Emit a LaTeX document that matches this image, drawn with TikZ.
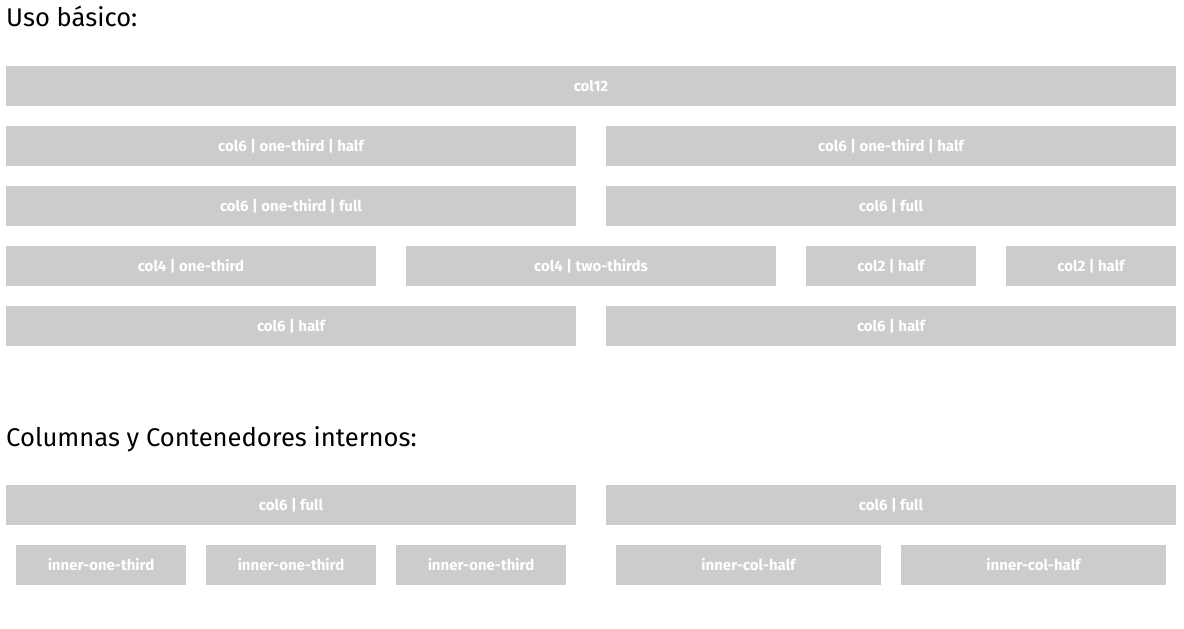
\documentclass[tikz,border=0pt]{standalone}
\usepackage{fontspec}
\setmainfont{Fira Sans}
\begin{document}
\begin{tikzpicture}[x=1pt,y=-1pt,
  box/.style={fill=boxgray,draw=none,inner sep=0pt,minimum height=40pt,
    text=white,font=\fontsize{15}{18}\selectfont\bfseries},
  title/.style={anchor=base west,inner sep=0pt,text=black,font=\fontsize{25.6}{30}\selectfont}]
\definecolor{boxgray}{HTML}{CCCCCC}
\useasboundingbox (0,0) rectangle (1184,629);
\fill[white] (0,0) rectangle (1184,629);
\newcommand{\bx}[5]{\node[box,minimum width={#3-#2}] (#1) at ({(#2+#3)/2},{#4+20}) {#5};}
\node[title] (t1) at (6,27) {Uso básico:};
\bx{r1}{6}{1176}{66}{col12}
\bx{r2a}{6}{576}{126}{col6 | one-third | half}
\bx{r2b}{606}{1176}{126}{col6 | one-third | half}
\bx{r3a}{6}{576}{186}{col6 | one-third | full}
\bx{r3b}{606}{1176}{186}{col6 | full}
\bx{r4a}{6}{376}{246}{col4 | one-third}
\bx{r4b}{406}{776}{246}{col4 | two-thirds}
\bx{r4c}{806}{976}{246}{col2 | half}
\bx{r4d}{1006}{1176}{246}{col2 | half}
\bx{r5a}{6}{576}{306}{col6 | half}
\bx{r5b}{606}{1176}{306}{col6 | half}
\node[title] (t2) at (6,446) {Columnas y Contenedores internos:};
\bx{r6a}{6}{576}{485}{col6 | full}
\bx{r6b}{606}{1176}{485}{col6 | full}
\bx{r7a}{16}{186}{545}{inner-one-third}
\bx{r7b}{206}{376}{545}{inner-one-third}
\bx{r7c}{396}{566}{545}{inner-one-third}
\bx{r7d}{616}{881}{545}{inner-col-half}
\bx{r7e}{901}{1166}{545}{inner-col-half}
\end{tikzpicture}
\end{document}
